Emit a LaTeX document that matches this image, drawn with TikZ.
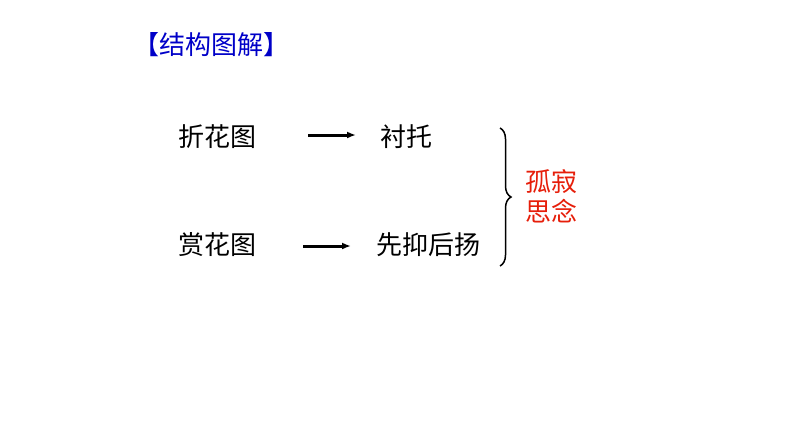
\documentclass[tikz,border=0pt]{standalone}
\usepackage{fontspec}
\newfontfamily\cjk{Noto Sans CJK SC}
\usetikzlibrary{decorations.pathreplacing,arrows.meta}
\tikzset{txt/.style={font=\cjk\fontsize{26}{30}\selectfont,inner sep=0pt},
 arr/.style={-{Latex[length=9pt,width=7pt]},line width=3pt}}
\begin{document}
\begin{tikzpicture}[x=1pt,y=-1pt]
\useasboundingbox (0,0) rectangle (794,447);
\node[txt,text={rgb,255:red,0;green,0;blue,200},anchor=west] (title) at (133,45) {【结构图解】};
\node[txt,anchor=west] (a1) at (178,137) {折花图};
\node[txt,anchor=west] (b1) at (380,137) {衬托};
\node[txt,anchor=west] (a2) at (178,245) {赏花图};
\node[txt,anchor=west] (b2) at (376,245) {先抑后扬};
\coordinate (s1) at (308,135); \coordinate (e1) at (356,135);
\coordinate (s2) at (303,246); \coordinate (e2) at (351,246);
\draw[arr] (s1) -- (e1);
\draw[arr] (s2) -- (e2);
\coordinate (bt) at (500,128); \coordinate (bb) at (500,266);
\draw[decorate,decoration={brace,amplitude=11pt},line width=1.5pt] (bt) -- (bb);
\node[txt,text={rgb,255:red,230;green,30;blue,10},align=center,font=\cjk\fontsize{26}{30}\selectfont] (c) at (551,196) {孤寂\\思念};
\end{tikzpicture}
\end{document}
